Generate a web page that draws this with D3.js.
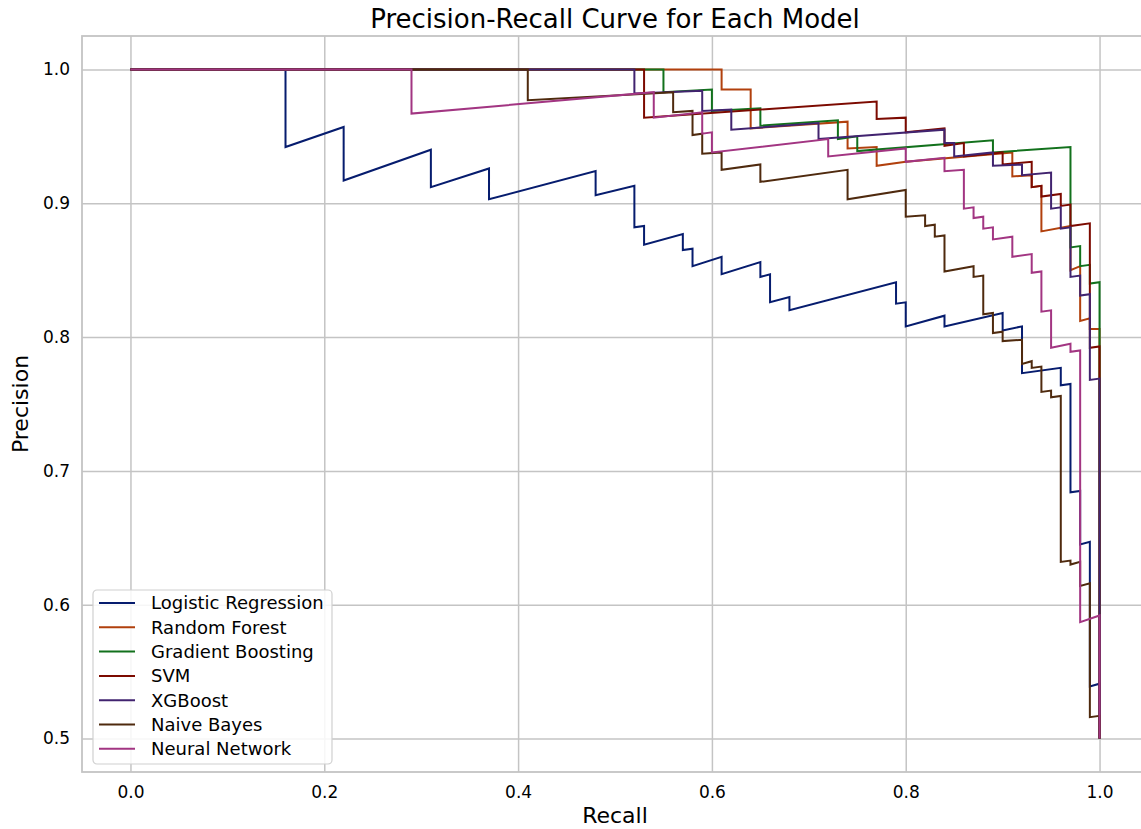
<!DOCTYPE html>
<html>
<head>
<meta charset="utf-8">
<title>Precision-Recall Curve for Each Model</title>
<script src="https://cdn.jsdelivr.net/npm/d3@7"></script>
<style>
  body { margin: 0; background: #fff; }
  text { font-family: "DejaVu Sans", sans-serif; fill: #000; }
</style>
</head>
<body>
<div id="chart"></div>
<script>

// model names + seaborn "dark"-like colours
var models = ["Logistic Regression", "Random Forest", "Gradient Boosting", "SVM", "XGBoost", "Naive Bayes", "Neural Network"];
var colors = ["#061c6e", "#b1400d", "#12711c", "#7c0a00", "#41236f", "#4f2a0e", "#a23582"];

var xTicks = [0.0, 0.2, 0.4, 0.6, 0.8, 1.0];
var yTicks = [0.5, 0.6, 0.7, 0.8, 0.9, 1.0];

// [recall, precision] vertices
var logisticPts = [[0,1],[0.16,1],[0.16,0.942],[0.22,0.957],[0.22,0.917],[0.31,0.940],[0.31,0.912],[0.37,0.926],[0.37,0.903],
  [0.48,0.924],[0.48,0.906],[0.52,0.913],[0.52,0.882],[0.53,0.883],[0.53,0.869],[0.57,0.877],[0.57,0.865],[0.58,0.866],
  [0.58,0.853],[0.61,0.860],[0.61,0.847],[0.65,0.856],[0.65,0.845],[0.66,0.847],[0.66,0.826],[0.68,0.830],[0.68,0.820],
  [0.79,0.841],[0.79,0.825],[0.80,0.826],[0.80,0.808],[0.84,0.816],[0.84,0.808],[0.90,0.818],[0.90,0.805],[0.92,0.808],
  [0.92,0.773],[0.96,0.777],[0.96,0.764],[0.97,0.765],[0.97,0.684],[0.98,0.685],[0.98,0.645],[0.99,0.647],[0.99,0.539],
  [1.0,0.541],[1.0,0.5]];

var forestPts = [[0,1],[0.61,1],[0.61,0.985],[0.64,0.985],[0.64,0.956],[0.74,0.961],[0.74,0.941],[0.77,0.942],[0.77,0.928],
  [0.80,0.931],[0.91,0.938],[0.91,0.920],[0.93,0.921],[0.93,0.912],[0.94,0.913],[0.94,0.879],[0.97,0.883],[0.97,0.850],
  [0.98,0.853],[0.98,0.812],[0.99,0.814],[0.99,0.806],[1.0,0.806],[1.0,0.5]];

var boostingPts = [[0,1],[0.55,1],[0.55,0.983],[0.60,0.985],[0.60,0.969],[0.65,0.971],[0.65,0.958],[0.73,0.962],[0.73,0.948],
  [0.75,0.950],[0.75,0.939],[0.89,0.947],[0.89,0.938],[0.97,0.942],[0.97,0.867],[0.98,0.868],[0.98,0.853],[0.99,0.854],
  [0.99,0.840],[1.0,0.841],[1.0,0.5]];

var svmPts = [[0,1],[0.53,1],[0.53,0.964],[0.77,0.976],[0.77,0.963],[0.80,0.964],[0.80,0.953],[0.84,0.956],[0.84,0.943],
  [0.86,0.945],[0.86,0.935],[0.90,0.938],[0.90,0.929],[0.93,0.931],[0.93,0.912],[0.94,0.913],[0.94,0.905],[0.96,0.907],
  [0.96,0.898],[0.97,0.899],[0.97,0.883],[0.99,0.885],[0.99,0.792],[1.0,0.793],[1.0,0.5]];

var xgbPts = [[0,1],[0.52,1],[0.52,0.982],[0.59,0.984],[0.59,0.969],[0.62,0.970],[0.62,0.955],[0.71,0.960],[0.71,0.948],
  [0.84,0.955],[0.84,0.945],[0.85,0.945],[0.85,0.935],[0.89,0.938],[0.89,0.928],[0.92,0.929],[0.92,0.921],[0.95,0.923],
  [0.95,0.896],[0.96,0.897],[0.96,0.881],[0.97,0.882],[0.97,0.845],[0.98,0.846],[0.98,0.831],[0.99,0.832],[0.99,0.768],
  [1.0,0.769],[1.0,0.5]];

var bayesPts = [[0,1],[0.41,1],[0.41,0.977],[0.56,0.983],[0.56,0.968],[0.58,0.969],[0.58,0.951],[0.59,0.952],[0.59,0.937],
  [0.61,0.938],[0.61,0.925],[0.65,0.929],[0.65,0.916],[0.74,0.925],[0.74,0.903],[0.80,0.910],[0.80,0.890],[0.82,0.891],
  [0.82,0.883],[0.83,0.884],[0.83,0.875],[0.84,0.876],[0.84,0.849],[0.87,0.853],[0.87,0.845],[0.88,0.846],[0.88,0.817],
  [0.89,0.818],[0.89,0.803],[0.90,0.804],[0.90,0.797],[0.92,0.798],[0.92,0.780],[0.93,0.782],[0.93,0.777],[0.94,0.778],
  [0.94,0.759],[0.95,0.760],[0.95,0.755],[0.96,0.756],[0.96,0.632],[0.97,0.633],[0.97,0.630],[0.98,0.632],[0.98,0.614],
  [0.99,0.616],[0.99,0.516],[1.0,0.517],[1.0,0.5]];

var neuralPts = [[0,1],[0.29,1],[0.29,0.967],[0.54,0.983],[0.54,0.964],[0.59,0.968],[0.59,0.952],[0.60,0.953],[0.60,0.938],
  [0.72,0.948],[0.72,0.935],[0.80,0.941],[0.80,0.931],[0.84,0.934],[0.84,0.924],[0.86,0.925],[0.86,0.896],[0.87,0.897],
  [0.87,0.889],[0.88,0.890],[0.88,0.881],[0.89,0.882],[0.89,0.873],[0.91,0.875],[0.91,0.860],[0.93,0.862],[0.93,0.848],
  [0.94,0.849],[0.94,0.819],[0.95,0.820],[0.95,0.792],[0.97,0.795],[0.97,0.789],[0.98,0.790],[0.98,0.587],[1.0,0.592],
  [1.0,0.5]];

var curves = [logisticPts, forestPts, boostingPts, svmPts, xgbPts, bayesPts, neuralPts];

var W = 1141, H = 829;
var plotL = 82, plotT = 36, plotR = 1148, plotB = 772;

var svg = d3.select("#chart").append("svg")
    .attr("width", W)
    .attr("height", H);

var x = d3.scaleLinear().domain([-0.05, 1.05]).range([plotL, plotR]);
var y = d3.scaleLinear().domain([0.475, 1.025]).range([plotB, plotT]);

svg.append("defs").append("clipPath").attr("id", "plotclip")
  .append("rect").attr("x", plotL).attr("y", plotT).attr("width", plotR - plotL).attr("height", plotB - plotT);

// grid (axes with long ticks)
svg.append("g")
    .attr("transform", "translate(0," + plotB + ")")
    .call(d3.axisBottom(x).tickValues(xTicks).tickSize(-(plotB - plotT)).tickFormat(d3.format(".1f")).tickPadding(14))
    .call(function(g) {
      g.select(".domain").remove();
      g.selectAll(".tick line").attr("stroke", "#c4c4c4").attr("stroke-width", 1.5);
      g.selectAll(".tick text").style("font-size", "17px").attr("font-family", "DejaVu Sans");
    });

svg.append("g")
    .attr("transform", "translate(" + plotL + ",0)")
    .call(d3.axisLeft(y).tickValues(yTicks).tickSize(-(plotR - plotL)).tickFormat(d3.format(".1f")).tickPadding(12))
    .call(function(g) {
      g.select(".domain").remove();
      g.selectAll(".tick line").attr("stroke", "#c4c4c4").attr("stroke-width", 1.5);
      g.selectAll(".tick text").style("font-size", "17px").attr("font-family", "DejaVu Sans");
    });

// frame
svg.append("rect")
    .attr("x", plotL).attr("y", plotT)
    .attr("width", plotR - plotL).attr("height", plotB - plotT)
    .attr("fill", "none").attr("stroke", "#c4c4c4").attr("stroke-width", 1.8);

var line = d3.line()
    .x(function(d) { return x(d[0]); })
    .y(function(d) { return y(d[1]); });

var plot = svg.append("g").attr("clip-path", "url(#plotclip)");
plot.selectAll("path.curve")
  .data(curves)
  .enter().append("path")
    .attr("class", "curve")
    .attr("d", line)
    .attr("fill", "none")
    .attr("stroke", function(d, i) { return colors[i]; })
    .attr("stroke-width", 2)
    .attr("stroke-linejoin", "miter");

// title + labels
svg.append("text")
    .attr("x", (plotL + plotR) / 2).attr("y", 28)
    .attr("text-anchor", "middle")
    .style("font-size", "26px")
    .text("Precision-Recall Curve for Each Model");

svg.append("text")
    .attr("x", (plotL + plotR) / 2).attr("y", 823)
    .attr("text-anchor", "middle")
    .style("font-size", "22px")
    .text("Recall");

svg.append("text")
    .attr("transform", "translate(28," + ((plotT + plotB) / 2) + ") rotate(-90)")
    .attr("text-anchor", "middle")
    .style("font-size", "22px")
    .text("Precision");

// legend
var legend = svg.append("g").attr("transform", "translate(93,590)");
legend.append("rect")
    .attr("width", 239).attr("height", 174)
    .attr("rx", 4)
    .attr("fill", "#fff").attr("fill-opacity", 0.85)
    .attr("stroke", "#d0d0d0").attr("stroke-width", 1.2);

var rows = legend.selectAll("g.row")
  .data(models)
  .enter().append("g")
    .attr("class", "row")
    .attr("transform", function(d, i) { return "translate(0," + (13 + i * 24.3) + ")"; });

rows.append("line")
    .attr("x1", 6).attr("x2", 42)
    .attr("stroke", function(d, i) { return colors[i]; })
    .attr("stroke-width", 2);

rows.append("text")
    .attr("x", 58).attr("dy", "0.35em")
    .style("font-size", "18px")
    .text(function(d) { return d; });

</script>
</body>
</html>
